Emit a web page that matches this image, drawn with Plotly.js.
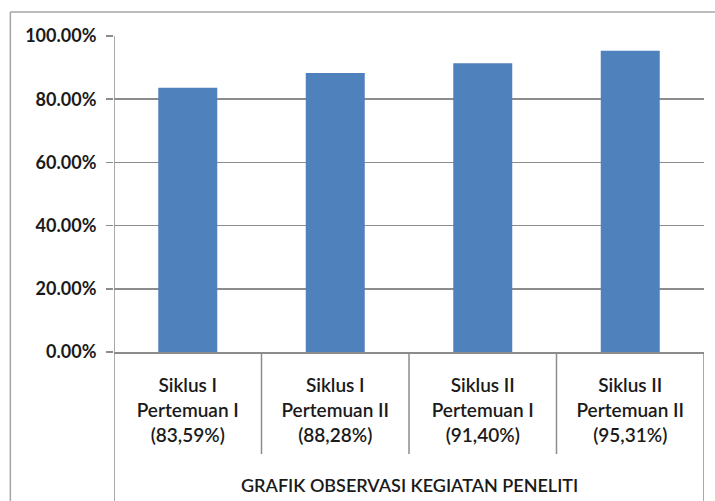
<!DOCTYPE html>
<html>
<head>
<meta charset="utf-8">
<script src="https://cdn.plot.ly/plotly-3.0.1.min.js"></script>
<style>html,body{margin:0;padding:0;background:#fff;}#chart{width:715px;height:501px;}</style>
</head>
<body>
<div id="chart"></div>
<script>
const categories = [
  'Siklus I<br>Pertemuan I<br>(83,59%)',
  'Siklus I<br>Pertemuan II<br>(88,28%)',
  'Siklus II<br>Pertemuan I<br>(91,40%)',
  'Siklus II<br>Pertemuan II<br>(95,31%)'
];
const values = [0.8359, 0.8828, 0.9140, 0.9531];
const yTickVals = [0, 0.2, 0.4, 0.6, 0.8, 1.0];
const yTickText = ['0.00%', '20.00%', '40.00%', '60.00%', '80.00%', '100.00%'];
const groupLabel = 'GRAFIK OBSERVASI KEGIATAN PENELITI';

const FONT = 'Lato, "Open Sans", sans-serif';
const GRID = '#8c8c8c';

const trace = {
  type: 'bar',
  x: categories,
  y: values,
  width: 0.4,
  marker: {color: '#4f81bd', line: {width: 0}},
  hoverinfo: 'none'
};

// separators between categories (in data x units) and outer frame
const bounds = [-0.5, 0.5, 1.5, 2.5, 3.5];
const shapes = bounds.map((b, i) => ({
  type: 'line', xref: 'x', yref: 'paper',
  x0: b, x1: b,
  y0: 0,
  y1: (i === 0 || i === bounds.length - 1) ? -0.48 : -0.323,
  line: {color: GRID, width: 1.5}
}));
shapes.push({type: 'line', xref: 'x', yref: 'paper', x0: -0.5, x1: -0.5, y0: 0, y1: 1, line: {color: GRID, width: 1.5}});
shapes.push({type: 'line', xref: 'paper', yref: 'paper', x0: -0.1757, x1: -0.1757, y0: 1.076, y1: -0.48, line: {color: '#a6a6a6', width: 1.5}});
shapes.push({type: 'line', xref: 'paper', yref: 'paper', x0: -0.1757, x1: 1.02, y0: 1.076, y1: 1.076, line: {color: '#a6a6a6', width: 1.5}});

const layout = {
  width: 715, height: 501,
  margin: {l: 114, r: 11, t: 36, b: 149},
  paper_bgcolor: '#ffffff', plot_bgcolor: '#ffffff',
  showlegend: false,
  bargap: 0.6,
  xaxis: {
    type: 'category',
    range: [-0.5, 3.5],
    showgrid: false,
    zeroline: false,
    showline: true, linecolor: GRID, linewidth: 1.5,
    ticks: '',
    ticklabelstandoff: 16,
    tickfont: {family: FONT, size: 19, color: '#1a1a1a', weight: 600},
    fixedrange: true
  },
  yaxis: {
    range: [0, 1],
    tickvals: yTickVals,
    ticktext: yTickText,
    showgrid: true, gridcolor: GRID, gridwidth: 1.5,
    zeroline: false,
    showline: false,
    ticks: 'outside', ticklen: 7, tickcolor: GRID, tickwidth: 1.5,
    ticklabelstandoff: 6,
    tickfont: {family: FONT, size: 18, color: '#1a1a1a', weight: 700},
    fixedrange: true
  },
  shapes: shapes,
  annotations: [{
    xref: 'paper', yref: 'paper', x: 0.5, y: -0.42,
    xanchor: 'center', yanchor: 'middle', showarrow: false,
    text: groupLabel,
    font: {family: FONT, size: 18, color: '#1a1a1a', weight: 600}
  }]
};

Plotly.newPlot('chart', [trace], layout, {displayModeBar: false, staticPlot: true});
</script>
</body>
</html>
